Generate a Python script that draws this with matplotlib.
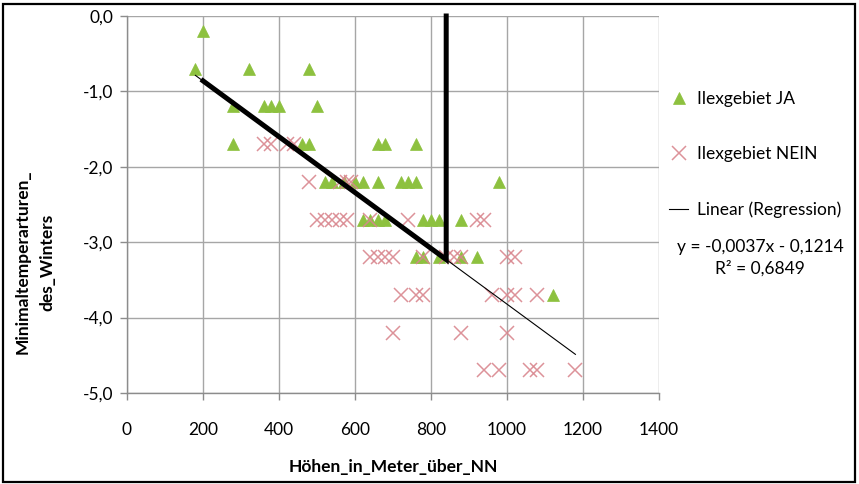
import matplotlib
matplotlib.use("Agg")
import matplotlib.pyplot as plt
from matplotlib.patches import Rectangle
import numpy as np

# ---------------- data ----------------
ja_x = [200, 180, 320, 480,
        280, 360, 380, 400, 500,
        280, 460, 480, 660, 680, 760,
        520, 540, 570, 600, 620, 660, 720, 740, 760, 980,
        620, 640, 660, 680, 780, 800, 820, 880,
        760, 780, 820, 880, 920,
        1120]
ja_y = [-0.2, -0.7, -0.7, -0.7,
        -1.2, -1.2, -1.2, -1.2, -1.2,
        -1.7, -1.7, -1.7, -1.7, -1.7, -1.7,
        -2.2, -2.2, -2.2, -2.2, -2.2, -2.2, -2.2, -2.2, -2.2, -2.2,
        -2.7, -2.7, -2.7, -2.7, -2.7, -2.7, -2.7, -2.7,
        -3.2, -3.2, -3.2, -3.2, -3.2,
        -3.7]

nein_x = [360, 380, 420, 440,
          480, 560, 580, 590,
          500, 520, 540, 560, 580, 640, 740, 920, 940,
          640, 660, 680, 700, 780, 840, 860, 880, 1000, 1020,
          720, 760, 780, 960, 1000, 1020, 1080,
          700, 880, 1000,
          940, 980, 1060, 1080, 1180]
nein_y = [-1.7, -1.7, -1.7, -1.7,
          -2.2, -2.2, -2.2, -2.2,
          -2.7, -2.7, -2.7, -2.7, -2.7, -2.7, -2.7, -2.7, -2.7,
          -3.2, -3.2, -3.2, -3.2, -3.2, -3.2, -3.2, -3.2, -3.2, -3.2,
          -3.7, -3.7, -3.7, -3.7, -3.7, -3.7, -3.7,
          -4.2, -4.2, -4.2,
          -4.7, -4.7, -4.7, -4.7, -4.7]

# thick drawn line (polyline)
thick_x = [200, 840, 840]
thick_y = [-0.86, -3.23, 0.0]

# regression (from the displayed equation)
reg_slope = -0.0037
reg_intercept = -0.1214
reg_x_range = [180, 1180]

x_ticks = [0, 200, 400, 600, 800, 1000, 1200, 1400]
x_tick_labels = ["0", "200", "400", "600", "800", "1000", "1200", "1400"]
y_ticks = [0.0, -1.0, -2.0, -3.0, -4.0, -5.0]
y_tick_labels = ["0,0", "-1,0", "-2,0", "-3,0", "-4,0", "-5,0"]

legend_labels = ["Ilexgebiet JA", "Ilexgebiet NEIN", "Linear (Regression)"]
equation_lines = ["y = -0,0037x - 0,1214", "R\u00b2 = 0,6849"]
x_label = "Höhen_in_Meter_über_NN"
y_label = "Minimaltemperarturen_\ndes_Winters"

# ---------------- style ----------------
plt.rcParams['font.family'] = ['Lato', 'DejaVu Sans']
FS = 12.5
W, H = 859, 484
fig = plt.figure(figsize=(W / 100, H / 100), dpi=100)
ax = fig.add_axes([127 / W, 1 - 393 / H, (659 - 127) / W, (393 - 16) / H])

green = '#8DC13F'
pink = '#D9868E'
gridc = '#A6A6A6'

ax.set_xlim(0, 1400)
ax.set_ylim(-5.0, 0.0)
ax.set_xticks(x_ticks)
ax.set_xticklabels(x_tick_labels, fontsize=FS)
ax.set_yticks(y_ticks)
ax.set_yticklabels(y_tick_labels, fontsize=FS)
ax.grid(True, color=gridc, linewidth=1.0)
ax.set_axisbelow(True)
for s in ['top', 'right']:
    ax.spines[s].set_visible(False)
for s in ['left', 'bottom']:
    ax.spines[s].set_color('#8C8C8C')
    ax.spines[s].set_linewidth(1.0)
ax.tick_params(axis='both', direction='out', length=5, color='#8C8C8C', width=1.0)
ax.tick_params(axis='y', pad=5)
ax.tick_params(axis='x', pad=16)

ja_h, = ax.plot(ja_x, ja_y, linestyle='none', marker='^', markersize=8.5,
                markerfacecolor=green, markeredgecolor=green, markeredgewidth=0.5,
                clip_on=False, zorder=3)
nein_h, = ax.plot(nein_x, nein_y, linestyle='none', marker='x', markersize=9.5,
                  markeredgecolor=pink, markeredgewidth=1.1, alpha=0.9,
                  clip_on=False, zorder=4)
rx = np.array(reg_x_range, dtype=float)
reg_h, = ax.plot(rx, reg_slope * rx + reg_intercept, color='black', linewidth=0.8, zorder=5)
ax.plot(thick_x, thick_y, color='black', linewidth=3.6, solid_joinstyle='miter',
        clip_on=False, zorder=6)

leg = fig.legend([ja_h, nein_h, reg_h], legend_labels,
                 loc='upper left', bbox_transform=fig.transFigure,
                 bbox_to_anchor=(669 / W, 1 - 91 / H), frameon=False,
                 fontsize=FS, labelspacing=2.25, handlelength=1.1,
                 handletextpad=0.5, borderaxespad=0, borderpad=0)

fig.text(760 / W, 1 - 247 / H, equation_lines[0], ha='center', va='center', fontsize=FS)
fig.text(760 / W, 1 - 268 / H, equation_lines[1], ha='center', va='center', fontsize=FS)

fig.text(393 / W, 1 - 467 / H, x_label, ha='center', va='center',
         fontsize=FS, fontweight='bold')
fig.text(35 / W, 1 - 262 / H, y_label, ha='center', va='center', rotation=90,
         fontsize=FS, fontweight='bold', linespacing=1.7, multialignment='center')

fig.patches.append(Rectangle((3 / W, 2 / H), (855 - 3) / W, (480 - 2) / H,
                             transform=fig.transFigure, fill=False,
                             edgecolor='black', linewidth=1.6))

fig.savefig('out.png', dpi=100)
